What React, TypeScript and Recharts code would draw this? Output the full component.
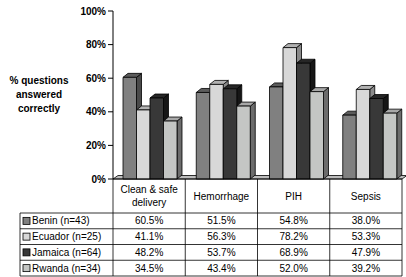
import React from 'react';
import { BarChart, Bar, XAxis, YAxis } from 'recharts';

const categories = ['Clean & safe delivery', 'Hemorrhage', 'PIH', 'Sepsis'];
const categoryLines = [['Clean & safe', 'delivery'], ['Hemorrhage'], ['PIH'], ['Sepsis']];
const seriesNames = ['Benin (n=43)', 'Ecuador (n=25)', 'Jamaica (n=64)', 'Rwanda (n=34)'];
const benin = [60.5, 51.5, 54.8, 38.0];
const ecuador = [41.1, 56.3, 78.2, 53.3];
const jamaica = [48.2, 53.7, 68.9, 47.9];
const rwanda = [34.5, 43.4, 52.0, 39.2];
const yTicks = [0, 20, 40, 60, 80, 100];

// front / top / side shades for the 3D columns
const palette = [
  { front: '#808080', top: '#5c5c5c', side: '#4a4a4a' },
  { front: '#d8d8d8', top: '#b2b2b2', side: '#8a8a8a' },
  { front: '#383838', top: '#262626', side: '#161616' },
  { front: '#c4c6c4', top: '#a8a8a8', side: '#6c6c6c' },
];

const seriesKeys = ['benin', 'ecuador', 'jamaica', 'rwanda'];
const seriesValues = [benin, ecuador, jamaica, rwanda];

const data = categories.map((name, i) => ({
  name,
  benin: benin[i],
  ecuador: ecuador[i],
  jamaica: jamaica[i],
  rwanda: rwanda[i],
}));

const FONT = '"Liberation Sans", Arial, Helvetica, sans-serif';
const DX = 5;
const DY = 4;

const Column3D = (props: any) => {
  const { x, y, width, height, colors } = props;
  if (height == null || width == null) return null;
  const r = x + width;
  const b = y + height;
  return (
    <g stroke="#000" strokeWidth={0.8} strokeLinejoin="round">
      <polygon points={`${r},${y} ${r + DX},${y - DY} ${r + DX},${b - DY} ${r},${b}`} fill={colors.side} />
      <polygon points={`${x},${y} ${x + DX},${y - DY} ${r + DX},${y - DY} ${r},${y}`} fill={colors.top} />
      <rect x={x} y={y} width={width} height={height} fill={colors.front} />
    </g>
  );
};

// table geometry (data table under the plot)
const tableLeft = 20;
const colEdges = [113, 185.25, 257.5, 329.75, 402];
const headerTop = 179;
const rowEdges = [213, 228.75, 244.5, 260.25, 276];

const DataTable = () => (
  <svg width={406} height={277} style={{ position: 'absolute', left: 0, top: 0 }} fontFamily={FONT}>
    <g stroke="#000" strokeWidth={0.8}>
      <line x1={colEdges[0]} y1={headerTop} x2={colEdges[4]} y2={headerTop} />
      {rowEdges.map((ry, i) => (
        <line key={`h${i}`} x1={tableLeft} y1={ry} x2={colEdges[4]} y2={ry} />
      ))}
      <line x1={tableLeft} y1={rowEdges[0]} x2={tableLeft} y2={rowEdges[4]} />
      {colEdges.map((cx, i) => (
        <line key={`v${i}`} x1={cx} y1={headerTop} x2={cx} y2={rowEdges[4]} />
      ))}
    </g>
    {categoryLines.map((lines, i) => {
      const cx = (colEdges[i] + colEdges[i + 1]) / 2;
      const mid = (headerTop + rowEdges[0]) / 2;
      const start = mid - ((lines.length - 1) * 12.5) / 2 + 3.5;
      return lines.map((t, j) => (
        <text key={`c${i}${j}`} x={cx} y={start + j * 12.5} textAnchor="middle" fontSize={10} fill="#000">
          {t}
        </text>
      ));
    })}
    {seriesNames.map((s, r) => {
      const cy = (rowEdges[r] + rowEdges[r + 1]) / 2;
      return (
        <g key={s}>
          <rect x={23} y={cy - 3.5} width={7} height={7} fill={palette[r].front} stroke="#000" strokeWidth={0.8} />
          <text x={32} y={cy + 3.5} fontSize={10} fill="#000">{s}</text>
          {seriesValues[r].map((v, c) => (
            <text key={c} x={(colEdges[c] + colEdges[c + 1]) / 2} y={cy + 3.5} textAnchor="middle" fontSize={10} fill="#000">
              {v.toFixed(1)}%
            </text>
          ))}
        </g>
      );
    })}
  </svg>
);

const Floor = () => (
  <svg width={406} height={277} style={{ position: 'absolute', left: 0, top: 0 }}>
    <polygon points="113,179 118,175.5 407,175.5 402,179" fill="#bdbdbd" stroke="#000" strokeWidth={0.8} />
  </svg>
);

const AxisTitle = ({ viewBox }: any) => (
  <text x={39} y={84} textAnchor="middle" fontSize={10} fontWeight="bold" fontFamily={FONT} fill="#000">
    <tspan x={39} dy={0}>% questions</tspan>
    <tspan x={39} dy={14}>answered</tspan>
    <tspan x={39} dy={14}>correctly</tspan>
  </text>
);

export default function App() {
  return (
    <div style={{ position: 'fixed', left: 0, top: 0, width: 406, height: 277, background: '#fff', overflow: 'hidden' }}>
      <Floor />
      <div style={{ position: 'absolute', left: 0, top: 0 }}>
        <BarChart
          width={406}
          height={277}
          data={data}
          margin={{ top: 11, right: 0, bottom: 98, left: 0 }}
          barGap={0}
          barSize={13.5}
        >
          <XAxis dataKey="name" hide />
          <YAxis
            width={113}
            domain={[0, 100]}
            ticks={yTicks}
            interval={0}
            tickSize={5}
            tickFormatter={(v) => `${v}%`}
            axisLine={{ stroke: '#000', strokeWidth: 1 }}
            tickLine={{ stroke: '#000', strokeWidth: 1 }}
            tick={{ fontSize: 10, fontWeight: 'bold', fill: '#000', fontFamily: FONT }}
            label={{ content: <AxisTitle /> }}
          />
          {seriesKeys.map((k, i) => (
            <Bar
              key={k}
              dataKey={k}
              name={seriesNames[i]}
              isAnimationActive={false}
              shape={(p: any) => <Column3D {...p} colors={palette[i]} />}
            />
          ))}
        </BarChart>
      </div>
      <DataTable />
    </div>
  );
}
